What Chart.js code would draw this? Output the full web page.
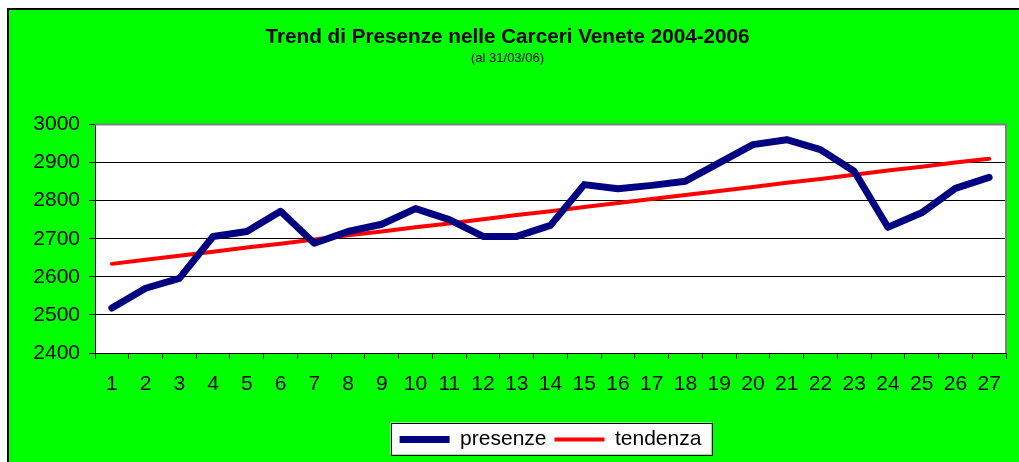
<!DOCTYPE html>
<html>
<head>
<meta charset="utf-8">
<title>Trend di Presenze nelle Carceri Venete 2004-2006</title>
<script src="https://cdn.jsdelivr.net/npm/chart.js@4/dist/chart.umd.min.js"></script>
<style>
    html, body { margin: 0; padding: 0; background: #fff; overflow: hidden; }
    #wrap {
        position: absolute; left: 7px; top: 8px;
        width: 1010px; height: 452px;
        border-left: 2px solid #000; border-top: 2px solid #000;
        background: #00ff00;
    }
    canvas { display: block; }
</style>
</head>
<body>
<div id="wrap"><canvas id="trendChart" width="1010" height="452"></canvas></div>
<script>
// Dati
const mesi = ['1', '2', '3', '4', '5', '6', '7', '8', '9', '10', '11', '12', '13', '14',
    '15', '16', '17', '18', '19', '20', '21', '22', '23', '24', '25', '26', '27'];
const presenze = [2518, 2570, 2596, 2706, 2719, 2772, 2688, 2719, 2738, 2779, 2750, 2706, 2706, 2735,
    2842, 2831, 2840, 2851, 2899, 2947, 2960, 2934, 2877, 2730, 2768, 2832, 2861];
const tendenza = [2634, 2645, 2655, 2666, 2677, 2687, 2698, 2709, 2719, 2730, 2740, 2751, 2762, 2772,
    2783, 2794, 2804, 2815, 2825, 2836, 2847, 2857, 2868, 2879, 2889, 2900, 2910];

const FONT = 'Arial, "Liberation Sans", sans-serif';

/**
 * Sfondo bianco dell'area del grafico, bordo grigio e riquadro della legenda
 */
const excelStyle = {
    id: 'excelStyle',
    beforeDraw(chart) {
        const ctx = chart.ctx;
        const a = chart.chartArea;
        ctx.save();
        ctx.fillStyle = '#ffffff';
        ctx.fillRect(a.left, a.top, a.right - a.left, a.bottom - a.top);

        const boxes = chart.legend && chart.legend.legendHitBoxes;
        if (boxes && boxes.length) {
            const first = boxes[0];
            const last = boxes[boxes.length - 1];
            const cy = first.top + first.height / 2;
            const x0 = first.left - 9;
            const x1 = last.left + last.width + 10;
            ctx.fillStyle = '#ffffff';
            ctx.fillRect(x0, cy - 17, x1 - x0, 32);
            ctx.strokeStyle = '#000000';
            ctx.lineWidth = 1;
            ctx.strokeRect(Math.round(x0) + 0.5, Math.round(cy - 17) + 0.5, Math.round(x1 - x0), 32);
        }
        ctx.restore();
    },
    beforeDatasetsDraw(chart) {
        const ctx = chart.ctx;
        const a = chart.chartArea;
        ctx.save();
        ctx.strokeStyle = '#808080';
        ctx.lineWidth = 2;
        ctx.beginPath();
        ctx.moveTo(a.left, a.top);
        ctx.lineTo(a.right, a.top);
        ctx.lineTo(a.right, a.bottom);
        ctx.stroke();
        ctx.restore();
    }
};

document.addEventListener('DOMContentLoaded', function() {
    const ctx = document.getElementById('trendChart').getContext('2d');

    new Chart(ctx, {
        type: 'line',
        data: {
            labels: mesi,
            datasets: [
                {
                    label: 'presenze',
                    data: presenze,
                    borderColor: '#000080',
                    backgroundColor: '#000080',
                    borderWidth: 7,
                    borderCapStyle: 'round',
                    borderJoinStyle: 'round',
                    tension: 0,
                    pointRadius: 0,
                    fill: false
                },
                {
                    label: 'tendenza',
                    data: tendenza,
                    borderColor: '#ff0000',
                    backgroundColor: '#ff0000',
                    borderWidth: 4,
                    borderCapStyle: 'round',
                    tension: 0,
                    pointRadius: 0,
                    fill: false
                }
            ]
        },
        options: {
            responsive: false,
            animation: false,
            devicePixelRatio: 1,
            layout: {
                padding: { left: 0, right: 13, top: 0, bottom: 2 }
            },
            plugins: {
                title: {
                    display: true,
                    text: 'Trend di Presenze nelle Carceri Venete 2004-2006',
                    color: '#000',
                    font: { family: FONT, size: 20.7, weight: 'bold' },
                    padding: { top: 15, bottom: 0 }
                },
                subtitle: {
                    display: true,
                    text: '(al 31/03/06)',
                    color: '#000',
                    font: { family: FONT, size: 13 },
                    padding: { top: 1, bottom: 58 }
                },
                legend: {
                    display: true,
                    position: 'bottom',
                    fullSize: false,
                    labels: {
                        color: '#000',
                        font: { family: FONT, size: 21 },
                        usePointStyle: true,
                        pointStyle: 'line',
                        pointStyleWidth: 50,
                        padding: 8
                    }
                },
                tooltip: { enabled: false }
            },
            scales: {
                x: {
                    offset: true,
                    grid: {
                        offset: true,
                        drawOnChartArea: false,
                        drawTicks: true,
                        tickLength: 6,
                        tickColor: '#000',
                        tickWidth: 1
                    },
                    border: { color: '#000', width: 1 },
                    ticks: {
                        color: '#000',
                        font: { family: FONT, size: 21 },
                        padding: 13,
                        maxRotation: 0,
                        autoSkip: false
                    },
                    afterFit(scale) { scale.height = 68; }
                },
                y: {
                    min: 2400,
                    max: 3000,
                    grid: {
                        color: '#000',
                        lineWidth: 1,
                        drawTicks: true,
                        tickLength: 6,
                        tickColor: '#000'
                    },
                    border: { color: '#000', width: 1 },
                    ticks: {
                        stepSize: 100,
                        color: '#000',
                        font: { family: FONT, size: 21 },
                        padding: 9,
                        callback: value => String(value)
                    },
                    afterFit(scale) { scale.width = 86; }
                }
            }
        },
        plugins: [excelStyle]
    });
});
</script>
</body>
</html>
